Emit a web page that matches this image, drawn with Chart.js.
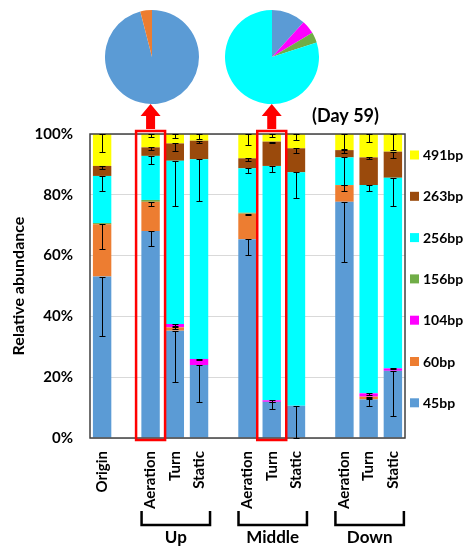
<!DOCTYPE html>
<html>
<head>
<meta charset="utf-8">
<script src="https://cdn.jsdelivr.net/npm/chart.js@4.4.1/dist/chart.umd.min.js"></script>
<style>
  html, body { margin: 0; padding: 0; background: #fff; }
  #wrap { position: relative; width: 464px; height: 547px; overflow: hidden; }
  #main { position: absolute; left: 0; top: 0; }
  .pie { position: absolute; }
</style>
</head>
<body>
<div id="wrap">
  <canvas id="main" width="464" height="547"></canvas>
  <canvas id="pieUp" class="pie" width="94" height="94" style="left:105px;top:10px;width:94px;height:94px"></canvas>
  <canvas id="pieMid" class="pie" width="94" height="94" style="left:225px;top:10px;width:94px;height:94px"></canvas>
</div>
<script>
// Sample slots (blank slots separate the Origin sample and the three depth groups)
const categories = ['Origin', '', 'Aeration', 'Turn', 'Static', '', 'Aeration', 'Turn', 'Static', '', 'Aeration', 'Turn', 'Static'];

// Depth groups: name, first slot, last slot
const groupNames = ['Up', 'Middle', 'Down'];
const groupFirst = [2, 6, 10];
const groupLast = [4, 8, 12];

// Relative abundance (%) of each fragment size
const bp45  = [53.1, null, 68.1, 35.3, 24.0, null, 65.4, 11.9, 10.6, null, 77.7, 12.7, 22.1];
const bp60  = [17.2, null,  9.6,  1.1,  0.0, null,  8.4,  0.0,  0.0, null,  5.5,  0.9,  0.0];
const bp156 = [ 0.4, null,  0.6,  0.0,  0.0, null,  0.3,  0.0,  0.0, null,  0.0,  0.0,  0.0];
const bp104 = [ 0.0, null,  0.0,  1.1,  2.0, null,  0.0,  0.5,  0.0, null,  0.0,  1.1,  0.8];
const bp256 = [15.5, null, 14.5, 53.7, 65.7, null, 14.6, 77.1, 76.8, null,  9.1, 68.5, 62.7];
const bp263 = [ 3.3, null,  2.8,  5.7,  6.1, null,  3.3,  8.0,  7.9, null,  2.4,  9.1,  8.6];
const bp491 = [10.5, null,  4.4,  3.1,  2.2, null,  8.0,  2.5,  4.7, null,  5.3,  7.7,  5.8];

// Standard deviations (%) drawn below each segment top
const err45  = [19.5, null, 5.0, 17.0, 12.0, null, 5.2, 2.2, 10.6, null, 19.9, 2.2, 14.9];
const err60  = [ 8.0, null, 1.4,  0.6,  0.0, null, 0.5, 0.0,  0.0, null,  2.0, 0.5,  0.0];
const err156 = [ 0.0, null, 0.0,  0.0,  0.0, null, 0.0, 0.0,  0.0, null,  0.0, 0.0,  0.0];
const err104 = [ 0.0, null, 0.0,  0.5,  0.5, null, 0.0, 0.4,  0.0, null,  0.0, 0.5,  0.3];
const err256 = [ 5.0, null, 2.8, 15.0, 13.6, null, 1.4, 1.9,  8.4, null,  9.0, 2.0,  9.3];
const err263 = [ 1.0, null, 1.0,  2.5,  0.7, null, 1.0, 0.5,  1.6, null,  0.8, 0.5,  2.2];
const err491 = [ 6.0, null, 1.0,  1.4,  1.5, null, 3.6, 1.0,  2.0, null,  5.0, 2.5,  5.3];

const seriesLabels = ['45bp', '60bp', '156bp', '104bp', '256bp', '263bp', '491bp'];
const seriesColors = ['#5B9BD5', '#ED7D31', '#70AD47', '#FF00FF', '#00FFFF', '#9A4A0C', '#FFFF00'];
const seriesValues = [bp45, bp60, bp156, bp104, bp256, bp263, bp491];
const seriesErrors = [err45, err60, err156, err104, err256, err263, err491];

// Legend order (top to bottom)
const legendOrder = ['491bp', '263bp', '256bp', '156bp', '104bp', '60bp', '45bp'];

// Pie compositions of the highlighted samples
const pieUpLabels = ['45bp', '60bp'];
const pieUpValues = [96, 4];
const pieUpColors = ['#5B9BD5', '#ED7D31'];
const pieMidLabels = ['45bp', '104bp', '156bp', '256bp'];
const pieMidValues = [11.7, 4.7, 3.6, 80.0];
const pieMidColors = ['#5B9BD5', '#FF00FF', '#70AD47', '#00FFFF'];

// Highlighted slots (framed and pointed at by arrows)
const highlighted = [2, 7];
const dayLabel = '(Day 59)';

const FONT = 'Lato, "Open Sans", "Liberation Sans", sans-serif';
Chart.defaults.font.family = FONT;
Chart.defaults.color = '#000';

const datasets = seriesLabels.map((label, i) => ({
  label,
  data: seriesValues[i],
  backgroundColor: seriesColors[i],
  borderWidth: 0,
  barPercentage: 0.76,
  categoryPercentage: 1.0
}));

// Error bars, plot frame, legend, highlight frames, arrows, group brackets
const decorations = {
  id: 'decorations',
  afterDatasetsDraw(chart) {
    const ctx = chart.ctx;
    const ys = chart.scales.y;
    const area = chart.chartArea;

    // plot frame
    ctx.save();
    ctx.strokeStyle = '#404040';
    ctx.lineWidth = 1.5;
    ctx.strokeRect(area.left, area.top, area.right - area.left, area.bottom - area.top);

    // error bars
    ctx.strokeStyle = '#000';
    ctx.lineWidth = 1;
    const base = categories.map(() => 0);
    seriesValues.forEach((vals, i) => {
      const meta = chart.getDatasetMeta(i);
      vals.forEach((v, j) => {
        if (v == null) return;
        const top = base[j] + v;
        base[j] = top;
        const e = seriesErrors[i][j];
        if (!v || !e) return;
        const x = meta.data[j].x;
        const y1 = Math.round(ys.getPixelForValue(top)) + 0.5;
        const y2 = Math.round(ys.getPixelForValue(Math.max(0, top - e))) + 0.5;
        const xr = Math.round(x) + 0.5;
        ctx.beginPath();
        ctx.moveTo(xr, y1); ctx.lineTo(xr, y2);
        ctx.moveTo(xr - 3, y1); ctx.lineTo(xr + 3, y1);
        ctx.moveTo(xr - 3, y2); ctx.lineTo(xr + 3, y2);
        ctx.stroke();
      });
    });
    ctx.restore();
  },
  afterDraw(chart) {
    const ctx = chart.ctx;
    const area = chart.chartArea;
    const xs = chart.scales.x;
    ctx.save();

    // legend
    ctx.font = 'bold 14px ' + FONT;
    ctx.textBaseline = 'middle';
    ctx.textAlign = 'left';
    legendOrder.forEach((lab, k) => {
      const i = seriesLabels.indexOf(lab);
      const cy = area.top + 21 + k * 41.3;
      ctx.fillStyle = seriesColors[i];
      ctx.fillRect(area.right + 5, cy - 4.5, 9, 9);
      ctx.fillStyle = '#000';
      ctx.fillText(lab, area.right + 18, cy + 0.5);
    });

    // highlight frames and arrows
    highlighted.forEach(idx => {
      const x = xs.getPixelForValue(idx);
      ctx.strokeStyle = '#FF0000';
      ctx.lineWidth = 2.5;
      ctx.strokeRect(x - 14.5, area.top - 3, 29, area.bottom - area.top + 5);
      ctx.fillStyle = '#FF0000';
      ctx.beginPath();
      ctx.moveTo(x, 104);
      ctx.lineTo(x + 10, 116);
      ctx.lineTo(x + 4.5, 116);
      ctx.lineTo(x + 4.5, 129);
      ctx.lineTo(x - 4.5, 129);
      ctx.lineTo(x - 4.5, 116);
      ctx.lineTo(x - 10, 116);
      ctx.closePath();
      ctx.fill();
    });

    // day label
    ctx.fillStyle = '#000';
    ctx.font = 'bold 18px ' + FONT;
    ctx.textAlign = 'left';
    ctx.textBaseline = 'middle';
    ctx.fillText(dayLabel, 312, 116);

    // group brackets and names
    ctx.strokeStyle = '#000';
    ctx.lineWidth = 2.5;
    ctx.font = 'bold 17px ' + FONT;
    ctx.textAlign = 'center';
    groupNames.forEach((name, g) => {
      const x1 = xs.getPixelForValue(groupFirst[g]) - 9;
      const x2 = xs.getPixelForValue(groupLast[g]) + 11;
      const xm = xs.getPixelForValue((groupFirst[g] + groupLast[g]) / 2) + 1;
      ctx.beginPath();
      ctx.moveTo(x1, 511);
      ctx.lineTo(x1, 525);
      ctx.lineTo(x2, 525);
      ctx.lineTo(x2, 511);
      ctx.stroke();
      ctx.fillText(name, xm, 538);
    });
    ctx.restore();
  }
};

new Chart(document.getElementById('main'), {
  type: 'bar',
  data: { labels: categories, datasets },
  options: {
    responsive: false,
    animation: false,
    events: [],
    layout: { padding: { top: 134, right: 59, bottom: 0, left: 0 } },
    plugins: { legend: { display: false }, tooltip: { enabled: false } },
    scales: {
      x: {
        stacked: true,
        grid: { display: false, drawTicks: false },
        border: { display: false },
        ticks: {
          autoSkip: false,
          minRotation: 90,
          maxRotation: 90,
          padding: 13,
          font: { size: 15, weight: 'bold' }
        },
        afterFit(scale) { scale.height = 109; }
      },
      y: {
        stacked: true,
        min: 0,
        max: 100,
        grid: { color: '#D9D9D9', drawTicks: false },
        border: { display: false },
        ticks: {
          stepSize: 20,
          padding: 17,
          font: { size: 15, weight: 'bold' },
          callback: v => v + '%'
        },
        title: {
          display: true,
          text: 'Relative abundance',
          font: { size: 16, weight: 'bold' },
          padding: { top: 9, bottom: 0 }
        },
        afterFit(scale) { scale.width = 90; }
      }
    }
  },
  plugins: [decorations]
});

function pie(id, labels, values, colors) {
  new Chart(document.getElementById(id), {
    type: 'pie',
    data: { labels, datasets: [{ data: values, backgroundColor: colors, borderWidth: 0, hoverOffset: 0, offset: 0 }] },
    options: {
      responsive: false,
      animation: false,
      events: [],
      plugins: { legend: { display: false }, tooltip: { enabled: false } }
    }
  });
}
pie('pieUp', pieUpLabels, pieUpValues, pieUpColors);
pie('pieMid', pieMidLabels, pieMidValues, pieMidColors);
</script>
</body>
</html>
